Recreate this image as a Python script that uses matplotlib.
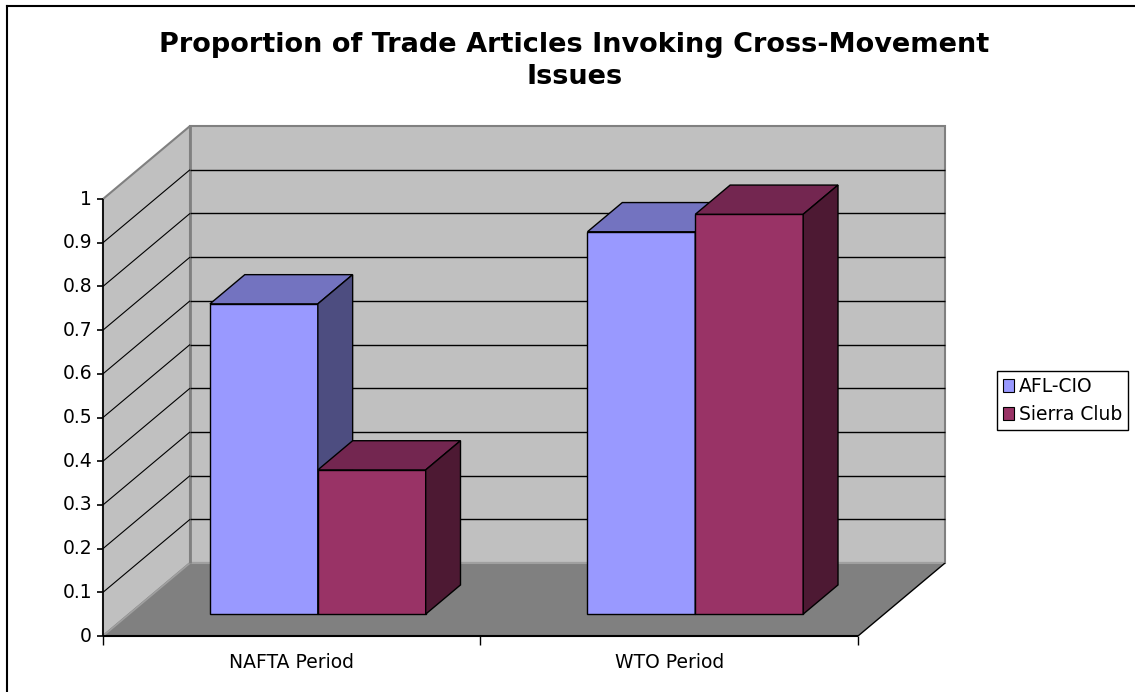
import matplotlib
matplotlib.use('Agg')
import matplotlib.pyplot as plt
from matplotlib.patches import Polygon, Patch
from matplotlib.lines import Line2D

categories = ['NAFTA Period', 'WTO Period']
series_names = ['AFL-CIO', 'Sierra Club']
afl_cio = [0.71, 0.875]
sierra_club = [0.33, 0.915]
y_ticks = [0, 0.1, 0.2, 0.3, 0.4, 0.5, 0.6, 0.7, 0.8, 0.9, 1]
y_tick_labels = ['0', '0.1', '0.2', '0.3', '0.4', '0.5', '0.6', '0.7', '0.8', '0.9', '1']

front_colors = ['#9999FF', '#993366']
top_colors = ['#7373C0', '#732650']
side_colors = ['#4D4D80', '#4D1933']

# oblique offset of the full floor depth, in data units
DX, DY = 0.2305, 0.167
BAR_W = 0.2857
D0, D1 = 0.3, 0.7


def proj(x, v, d):
    return (x + d * DX, v + d * DY)


def poly(ax, pts, fc, ec='black', lw=1.0, z=1):
    ax.add_patch(Polygon(pts, closed=True, facecolor=fc, edgecolor=ec,
                         linewidth=lw, zorder=z, joinstyle='miter'))


def seg(ax, a, b, color='black', lw=1.0, z=2):
    ax.plot([a[0], b[0]], [a[1], b[1]], color=color, lw=lw, zorder=z,
            solid_capstyle='butt')


fig = plt.figure(figsize=(11.35, 6.92), dpi=100)
ax = fig.add_axes([0, 0, 1, 1])
ax.set_xlim(-0.2728, 2.7338)
ax.set_ylim(-0.1281, 1.4554)
ax.axis('off')

ncat = len(categories)
top = y_ticks[-1]

# walls and floor
poly(ax, [proj(0, 0, 1), proj(ncat, 0, 1), proj(ncat, top, 1), proj(0, top, 1)],
     '#C0C0C0', ec='#808080', lw=1.5, z=1)
poly(ax, [proj(0, 0, 0), proj(0, 0, 1), proj(0, top, 1), proj(0, top, 0)],
     '#C0C0C0', ec='#808080', lw=1.5, z=1)
poly(ax, [proj(0, 0, 0), proj(ncat, 0, 0), proj(ncat, 0, 1), proj(0, 0, 1)],
     '#808080', ec='none', z=1.5)
seg(ax, proj(0, 0, 1), proj(ncat, 0, 1), color='#A0A0A0', lw=1.5, z=1.6)
seg(ax, proj(0, 0, 0), proj(0, 0, 1), color='#A0A0A0', lw=1.2, z=1.6)
seg(ax, proj(ncat, 0, 0), proj(ncat, 0, 1), color='black', lw=1.0, z=1.6)
seg(ax, proj(0, 0, 1), proj(0, top, 1), color='#808080', lw=2.0, z=1.7)

# gridlines
for t in y_ticks[1:-1]:
    seg(ax, proj(0, t, 1), proj(ncat, t, 1), lw=1.0, z=1.8)
    seg(ax, proj(0, t, 0), proj(0, t, 1), lw=0.8, z=1.8)

# value axis
seg(ax, proj(0, 0, 0), proj(0, top, 0), lw=1.2, z=3)
for t, lab in zip(y_ticks, y_tick_labels):
    seg(ax, (-0.016, t), (0, t), lw=1.2, z=3)
    ax.text(-0.029, t, lab, ha='right', va='center', fontsize=13.5,
            color='black')

# category axis
seg(ax, (0, 0), (ncat, 0), lw=1.5, z=3)
for i in range(ncat + 1):
    seg(ax, (i, 0), (i, -0.02), lw=1.0, z=3)
for i, cat in enumerate(categories):
    ax.text(i + 0.5, -0.06, cat, ha='center', va='center', fontsize=13.5)

# bars
values = [afl_cio, sierra_club]
z = 5
for i in range(ncat):
    for j in range(len(series_names)):
        v = values[j][i]
        x0 = i + 0.5 - BAR_W + j * BAR_W
        x1 = x0 + BAR_W
        poly(ax, [proj(x0, 0, D0), proj(x1, 0, D0), proj(x1, v, D0), proj(x0, v, D0)],
             front_colors[j], z=z)
        poly(ax, [proj(x0, v, D0), proj(x1, v, D0), proj(x1, v, D1), proj(x0, v, D1)],
             top_colors[j], z=z)
        poly(ax, [proj(x1, 0, D0), proj(x1, 0, D1), proj(x1, v, D1), proj(x1, v, D0)],
             side_colors[j], z=z)
        z += 1

fig.text(0.506, 1 - 61 / 692,
         'Proportion of Trade Articles Invoking Cross-Movement\nIssues',
         ha='center', va='center', fontsize=19.5, fontweight='bold',
         linespacing=1.33)

handles = [Patch(facecolor=c, edgecolor='black', linewidth=0.8) for c in front_colors]
leg = fig.legend(handles, series_names, loc='center left',
                 bbox_to_anchor=(997 / 1135, 1 - 400.5 / 692),
                 bbox_transform=fig.transFigure, fontsize=13.5, fancybox=False,
                 framealpha=1, edgecolor='black', handlelength=0.6,
                 handleheight=0.7, handletextpad=0.25, labelspacing=0.45,
                 borderpad=0.32, borderaxespad=0)
leg.get_frame().set_linewidth(1.0)

# chart area border (top and left edges visible)
fig.add_artist(Line2D([7 / 1135, 1], [1 - 6 / 692, 1 - 6 / 692],
                      transform=fig.transFigure, color='black', lw=1.5))
fig.add_artist(Line2D([7 / 1135, 7 / 1135], [0, 1 - 6 / 692],
                      transform=fig.transFigure, color='black', lw=1.5))

fig.savefig('out.png', dpi=100)
